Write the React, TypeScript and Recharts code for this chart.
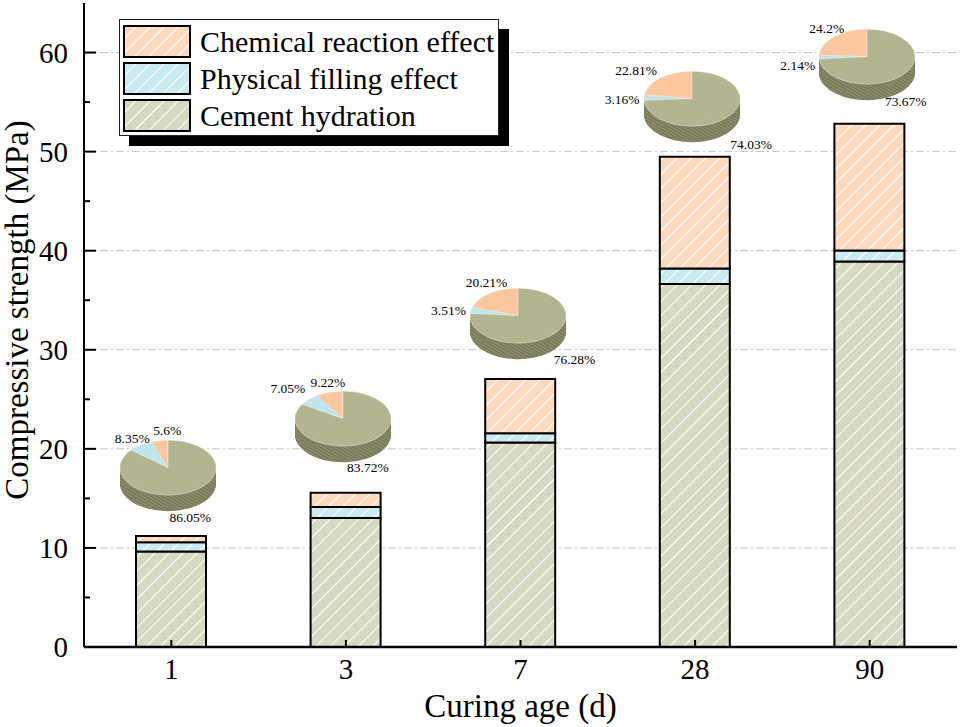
import React from "react";
import { BarChart, Bar, XAxis, YAxis, CartesianGrid, Legend, PieChart, Pie, Cell } from "recharts";

const ages = ["1", "3", "7", "28", "90"];
const cementHydration = [9.64, 13.03, 20.63, 36.64, 38.9];
const physicalFilling = [0.93, 1.1, 0.95, 1.56, 1.13];
const chemicalReaction = [0.63, 1.43, 5.46, 11.29, 12.78];

// shares shown in the small pies (%)
const chemicalShare = [5.6, 9.22, 20.21, 22.81, 24.2];
const physicalShare = [8.35, 7.05, 3.51, 3.16, 2.14];
const cementShare = [86.05, 83.72, 76.28, 74.03, 73.67];

const yTicks = [0, 5, 10, 15, 20, 25, 30, 35, 40, 45, 50, 55, 60];
const gridValues = [10, 20, 30, 40, 50, 60];

const W = 961;
const H = 727;
const PLOT_L = 84;
const PLOT_R = 957;
const PLOT_T = 3;
const PLOT_B = 647;
const Y_MAX = 65;
const FONT = "'Liberation Serif', 'Times New Roman', serif";

// pie layout: gap (px) between bar top and pie apex
const pieGap = [68, 74, 63, 58, 67];
const PIE_R = 48;
const PIE_SQUASH = 0.573;
const PIE_DEPTH = 16;
// label placement around each pie apex: [chem, phys, cement] as [dx, dy]
const labelOffsets = [
  [[-1, -37], [-36, -29], [22, 50]],
  [[-15, -36], [-55, -30], [25, 49]],
  [[-31, -33], [-69, -5], [57, 44]],
  [[-56, -28], [-70, 1], [59, 46]],
  [[-40, -28], [-69, 9], [39, 45]],
];

const data = ages.map((age, i) => ({
  age,
  cement: cementHydration[i],
  physical: physicalFilling[i],
  chemical: chemicalReaction[i],
}));

const topFills = ["url(#pieTopChem)", "url(#pieTopPhys)", "url(#pieTopCement)"];
const sideFills = ["url(#pieSideChem)", "url(#pieSidePhys)", "url(#pieSideCement)"];

const Patterns = () => (
  <svg width={0} height={0} style={{ position: "absolute" }}>
    <defs>
      <pattern id="hatchCement" width={10} height={10} patternUnits="userSpaceOnUse" patternTransform="rotate(45)">
        <rect width={10} height={10} fill="#d6d8c1" />
        <line x1={0} y1={0} x2={0} y2={10} stroke="#ffffff" strokeWidth={2.2} />
      </pattern>
      <pattern id="hatchPhys" width={10} height={10} patternUnits="userSpaceOnUse" patternTransform="rotate(45)">
        <rect width={10} height={10} fill="#c9eaf0" />
        <line x1={0} y1={0} x2={0} y2={10} stroke="#ffffff" strokeWidth={2.2} />
      </pattern>
      <pattern id="hatchChem" width={10} height={10} patternUnits="userSpaceOnUse" patternTransform="rotate(45)">
        <rect width={10} height={10} fill="#fdd9bd" />
        <line x1={0} y1={0} x2={0} y2={10} stroke="#ffffff" strokeWidth={2.2} />
      </pattern>
      <pattern id="pieTopCement" width={3} height={3} patternUnits="userSpaceOnUse" patternTransform="rotate(-45)">
        <rect width={3} height={3} fill="#b6b893" />
        <line x1={0} y1={0} x2={0} y2={3} stroke="#a3a57f" strokeWidth={1} />
      </pattern>
      <pattern id="pieTopPhys" width={3} height={3} patternUnits="userSpaceOnUse" patternTransform="rotate(-45)">
        <rect width={3} height={3} fill="#c2e7ee" />
        <line x1={0} y1={0} x2={0} y2={3} stroke="#b0dbe4" strokeWidth={1} />
      </pattern>
      <pattern id="pieTopChem" width={3} height={3} patternUnits="userSpaceOnUse" patternTransform="rotate(-45)">
        <rect width={3} height={3} fill="#fdcaa2" />
        <line x1={0} y1={0} x2={0} y2={3} stroke="#f4b98d" strokeWidth={1} />
      </pattern>
      <pattern id="pieSideCement" width={4} height={4} patternUnits="userSpaceOnUse" patternTransform="rotate(-45)">
        <rect width={4} height={4} fill="#868866" />
        <line x1={0} y1={0} x2={0} y2={4} stroke="#66684b" strokeWidth={1.5} />
      </pattern>
      <pattern id="pieSidePhys" width={4} height={4} patternUnits="userSpaceOnUse" patternTransform="rotate(-45)">
        <rect width={4} height={4} fill="#8eb3ba" />
        <line x1={0} y1={0} x2={0} y2={4} stroke="#6f939a" strokeWidth={1.5} />
      </pattern>
      <pattern id="pieSideChem" width={4} height={4} patternUnits="userSpaceOnUse" patternTransform="rotate(-45)">
        <rect width={4} height={4} fill="#c99a78" />
        <line x1={0} y1={0} x2={0} y2={4} stroke="#a97e5e" strokeWidth={1.5} />
      </pattern>
    </defs>
  </svg>
);

const YTick = (props: any) => {
  const { y, payload } = props;
  const major = payload.value % 10 === 0;
  return (
    <g>
      <line x1={PLOT_L} x2={PLOT_L + (major ? 12 : 6)} y1={y} y2={y} stroke="#000" strokeWidth={2} />
      {major && (
        <text x={PLOT_L - 16} y={y} dy="0.36em" textAnchor="end" fontSize={29} fontFamily={FONT} fill="#000">
          {payload.value}
        </text>
      )}
    </g>
  );
};

const XTick = (props: any) => {
  const { x, payload } = props;
  return (
    <g>
      <line x1={x} x2={x} y1={PLOT_B} y2={PLOT_B - 7} stroke="#000" strokeWidth={2} />
      <text x={x} y={679} textAnchor="middle" fontSize={29} fontFamily={FONT} fill="#000">
        {payload.value}
      </text>
    </g>
  );
};

const legendOrder = ["chemical", "physical", "cement"];
const legendFill: Record<string, string> = {
  chemical: "url(#hatchChem)",
  physical: "url(#hatchPhys)",
  cement: "url(#hatchCement)",
};

const renderLegend = (props: any) => {
  const items = [...(props.payload || [])].sort(
    (a: any, b: any) => legendOrder.indexOf(a.dataKey) - legendOrder.indexOf(b.dataKey)
  );
  return (
    <div
      style={{
        width: 380,
        height: 117,
        boxSizing: "border-box",
        border: "1.5px solid #222",
        background: "#fff",
        boxShadow: "10px 10px 0 #000",
        padding: "3px 0 0 3px",
      }}
    >
      {items.map((item: any) => (
        <div key={item.dataKey} style={{ display: "flex", alignItems: "center", height: 37 }}>
          <svg width={68} height={33}>
            <rect x={1} y={1} width={66} height={31} fill={legendFill[item.dataKey]} stroke="#000" strokeWidth={2} />
          </svg>
          <span style={{ marginLeft: 9, fontSize: 30, fontFamily: FONT, color: "#000", lineHeight: "33px", whiteSpace: "nowrap" }}>
            {item.value}
          </span>
        </div>
      ))}
    </div>
  );
};

const Pie3D = ({ i }: { i: number }) => {
  const band = (PLOT_R - PLOT_L) / ages.length;
  const cx = PLOT_L + (i + 0.5) * band - 3;
  const total = cementHydration[i] + physicalFilling[i] + chemicalReaction[i];
  const barTop = PLOT_T + ((Y_MAX - total) / Y_MAX) * (PLOT_B - PLOT_T);
  const apexY = barTop - pieGap[i];
  const slices = [
    { name: "chem", value: chemicalShare[i] },
    { name: "phys", value: physicalShare[i] },
    { name: "cement", value: cementShare[i] },
  ];
  const box = PIE_R + 2;
  const depth = Math.round(PIE_DEPTH / PIE_SQUASH);
  const layers = Array.from({ length: depth }, (_, k) => depth - k);

  return (
    <>
      <div
        style={{
          position: "absolute",
          left: cx - box,
          top: apexY - box * PIE_SQUASH,
          width: 2 * box,
          height: 2 * box + depth,
          transform: `scaleY(${PIE_SQUASH})`,
          transformOrigin: "0 0",
        }}
      >
        <PieChart width={2 * box} height={2 * box + depth} margin={{ top: 0, right: 0, bottom: 0, left: 0 }}>
          {layers.map((k) => (
            <Pie
              key={k}
              data={slices}
              dataKey="value"
              cx={box}
              cy={box + k}
              outerRadius={PIE_R}
              startAngle={90}
              endAngle={450}
              stroke="none"
              isAnimationActive={false}
            >
              {slices.map((s, j) => (
                <Cell key={s.name} fill={sideFills[j]} />
              ))}
            </Pie>
          ))}
          <Pie
            data={slices}
            dataKey="value"
            cx={box}
            cy={box}
            outerRadius={PIE_R}
            startAngle={90}
            endAngle={450}
            stroke="#f2f2ea"
            strokeWidth={0.6}
            isAnimationActive={false}
          >
            {slices.map((s, j) => (
              <Cell key={s.name} fill={topFills[j]} />
            ))}
          </Pie>
        </PieChart>
      </div>
      {slices.map((s, j) => (
        <div
          key={s.name}
          style={{
            position: "absolute",
            left: cx + labelOffsets[i][j][0],
            top: apexY + labelOffsets[i][j][1],
            transform: "translate(-50%, -50%)",
            fontSize: 13.5,
            fontFamily: FONT,
            color: "#000",
            whiteSpace: "nowrap",
            lineHeight: 1,
          }}
        >
          {`${s.value}%`}
        </div>
      ))}
    </>
  );
};

export default function App() {
  return (
    <div style={{ position: "absolute", left: 0, top: 0, width: W, height: H, background: "#fff" }}>
      <Patterns />
      <BarChart width={W} height={H} data={data} margin={{ top: PLOT_T, right: W - PLOT_R, bottom: 0, left: 0 }} barCategoryGap={0}>
        <CartesianGrid vertical={false} horizontalValues={gridValues} stroke="#c4c4c4" strokeDasharray="8 3 2 3" />
        <XAxis
          dataKey="age"
          height={H - PLOT_B}
          interval={0}
          tickLine={false}
          axisLine={{ stroke: "#000", strokeWidth: 2.5 }}
          tick={<XTick />}
          label={() => (
            <text x={(PLOT_L + PLOT_R) / 2} y={717} textAnchor="middle" fontSize={33} fontFamily={FONT} fill="#000">
              Curing age (d)
            </text>
          )}
        />
        <XAxis xAxisId="top" orientation="top" dataKey="age" height={0} tick={false} tickLine={false} axisLine={{ stroke: "#000", strokeWidth: 2 }} />
        <YAxis
          width={PLOT_L}
          domain={[0, Y_MAX]}
          ticks={yTicks}
          interval={0}
          tickLine={false}
          axisLine={{ stroke: "#000", strokeWidth: 2 }}
          tick={<YTick />}
          label={() => (
            <text x={28} y={310} transform="rotate(-90 28 310)" textAnchor="middle" fontSize={33} fontFamily={FONT} fill="#000">
              Compressive strength (MPa)
            </text>
          )}
        />
        <YAxis yAxisId="right" orientation="right" width={0} domain={[0, Y_MAX]} tick={false} tickLine={false} axisLine={{ stroke: "#000", strokeWidth: 2 }} />
        <Legend layout="horizontal" verticalAlign="middle" align="center" content={renderLegend} wrapperStyle={{ left: 119, top: 19, width: 380, height: 117 }} />
        <Bar dataKey="cement" name="Cement hydration" stackId="s" fill="url(#hatchCement)" stroke="#000" strokeWidth={2} barSize={70} isAnimationActive={false} />
        <Bar dataKey="physical" name="Physical filling effect" stackId="s" fill="url(#hatchPhys)" stroke="#000" strokeWidth={2} barSize={70} isAnimationActive={false} />
        <Bar dataKey="chemical" name="Chemical reaction effect" stackId="s" fill="url(#hatchChem)" stroke="#000" strokeWidth={2} barSize={70} isAnimationActive={false} />
      </BarChart>
      {ages.map((age, i) => (
        <Pie3D key={age} i={i} />
      ))}
    </div>
  );
}
